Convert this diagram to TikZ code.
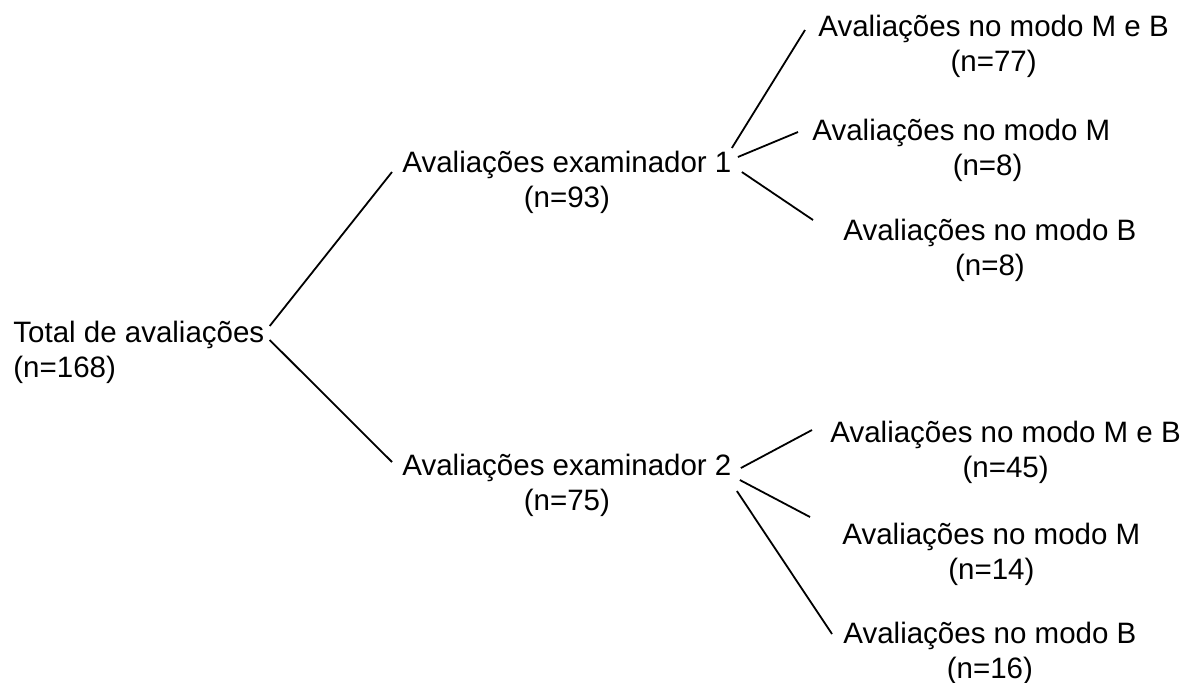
\documentclass[tikz,border=0pt]{standalone}
\usepackage{fontspec}
\setmainfont{Liberation Sans}
\usepackage{tikz}

\begin{document}
\begin{tikzpicture}[
    x=0.5pt, y=-0.5pt,
    entry/.style={font=\fontsize{14.75}{17.5}\selectfont, inner sep=0pt, align=center, anchor=base west},
    branch/.style={line width=0.9pt}
]
\useasboundingbox (0,0) rectangle (1188,682);

% Nodes (placed at the baseline of their last line)
\node (total) [entry, align=left] at (13,377) {Total de avaliações\\(n=168)};
\node (exam1) [entry] at (402,207) {Avaliações examinador 1\\(n=93)};
\node (exam2) [entry] at (402,510) {Avaliações examinador 2\\(n=75)};
\node (mb1) [entry] at (818,71) {Avaliações no modo M e B\\(n=77)};
\node (m1) [entry] at (812,175) {Avaliações no modo M\phantom{ e B}\\(n=8)};
\node (b1) [entry] at (843,275) {Avaliações no modo B\\(n=8)};
\node (mb2) [entry] at (830,477) {Avaliações no modo M e B\\(n=45)};
\node (m2) [entry] at (842,579) {Avaliações no modo M\\(n=14)};
\node (b2) [entry] at (843,678) {Avaliações no modo B\\(n=16)};

% Lines
\draw [branch] ([shift={(5,-51)}]total.base east) -- ([shift={(-10,-35)}]exam1.base west);
\draw [branch] ([shift={(5,-37)}]total.base east) -- ([shift={(-10,-48)}]exam2.base west);
\draw [branch] ([shift={(0,-59)}]exam1.base east) -- ([shift={(-13,-41)}]mb1.base west);
\draw [branch] ([shift={(6,-50)}]exam1.base east) -- ([shift={(-14,-43)}]m1.base west);
\draw [branch] ([shift={(10,-35)}]exam1.base east) -- ([shift={(-30,-55)}]b1.base west);
\draw [branch] ([shift={(9,-42)}]exam2.base east) -- ([shift={(-18,-47)}]mb2.base west);
\draw [branch] ([shift={(8,-30)}]exam2.base east) -- ([shift={(-32,-62)}]m2.base west);
\draw [branch] ([shift={(5,-19)}]exam2.base east) -- ([shift={(-11,-44)}]b2.base west);

\end{tikzpicture}
\end{document}
